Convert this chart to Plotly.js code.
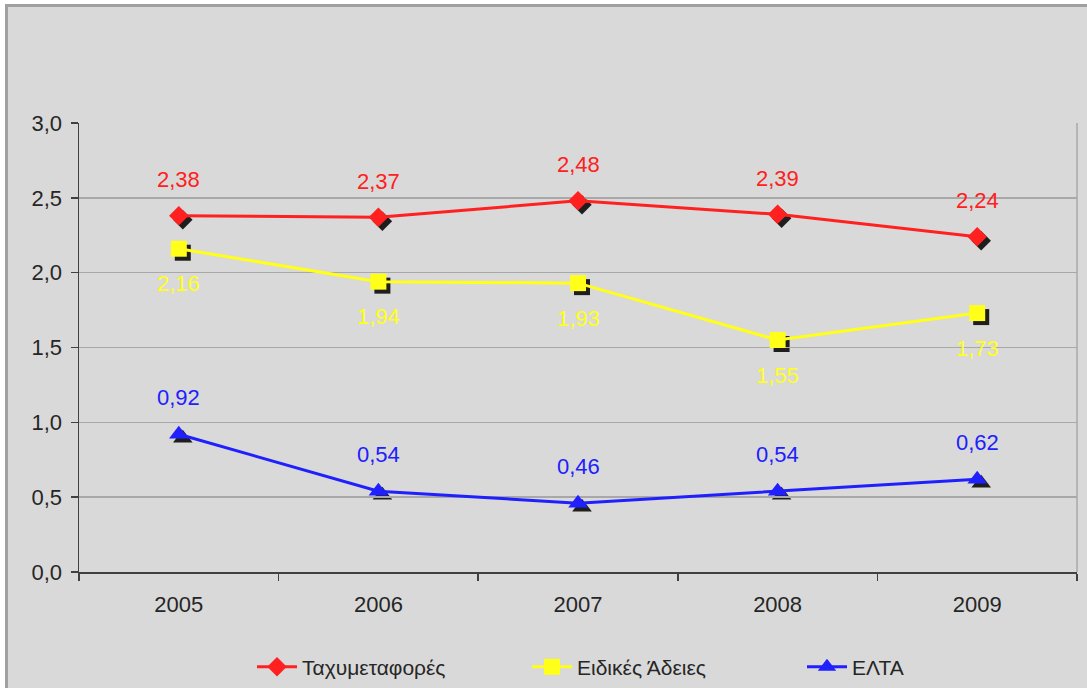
<!DOCTYPE html>
<html>
<head>
<meta charset="utf-8">
<script src="https://cdn.plot.ly/plotly-3.0.1.min.js"></script>
<style>
  html, body { margin: 0; padding: 0; background: #ffffff; }
  #wrap { position: relative; width: 1087px; height: 688px; overflow: hidden; background: #ffffff; }
  #frame { position: absolute; left: 5px; top: 4px; width: 1082px; height: 684px;
           border-left: 3px solid #a0a0a0; border-top: 3px solid #a0a0a0; box-sizing: border-box; background: #d9d9d9; }
  #chart { position: absolute; left: 0; top: 0; width: 1079px; height: 681px; }
</style>
</head>
<body>
<div id="wrap"><div id="frame"><div id="chart"></div></div></div>
<script>
// ---- data ----
const years = ['2005', '2006', '2007', '2008', '2009'];
const taxymetafores = [2.38, 2.37, 2.48, 2.39, 2.24];
const eidikesAdeies = [2.16, 1.94, 1.93, 1.55, 1.73];
const elta = [0.92, 0.54, 0.46, 0.54, 0.62];
const seriesNames = ['Ταχυμεταφορές', 'Ειδικές Άδειες', 'ΕΛΤΑ'];

// ---- style ----
const colors = ['#ff2020', '#ffff1a', '#2020ff'];
const symbols = ['diamond', 'square', 'triangle-up'];
const sizes = [15, 16, 17];
const labelShift = [36, -35, 37];
const FONT = '"Liberation Sans", Arial, sans-serif';

const plotW = 998, plotH = 449, off = 4;
const W = plotW + off, H = plotH + off;

const seriesData = [taxymetafores, eidikesAdeies, elta];
const traces = [];
// shadows (hidden axes x/y, shifted right/down)
seriesData.forEach((vals, i) => {
  traces.push({
    x: years, y: vals, type: 'scatter', mode: 'markers',
    xaxis: 'x', yaxis: 'y', showlegend: false, hoverinfo: 'skip',
    marker: { symbol: symbols[i], size: sizes[i], color: '#1e1e1e' }
  });
});
// main series
seriesData.forEach((vals, i) => {
  traces.push({
    x: years, y: vals, type: 'scatter', mode: 'lines+markers',
    name: seriesNames[i], xaxis: 'x2', yaxis: 'y2',
    line: { color: colors[i], width: 3 },
    marker: { symbol: symbols[i], size: sizes[i], color: colors[i] }
  });
});

const annotations = [];
seriesData.forEach((vals, i) => {
  vals.forEach((v, j) => {
    annotations.push({
      x: j, y: v, xref: 'x2', yref: 'y2',
      text: v.toFixed(2).replace('.', ','),
      showarrow: false, yshift: labelShift[i], xanchor: 'center', yanchor: 'middle',
      font: { family: FONT, size: 22, color: colors[i] }
    });
  });
});

const axisFont = { family: FONT, size: 22, color: '#262626' };

const layout = {
  width: 1079, height: 681,
  margin: { l: 71, r: 6, t: 116, b: 112, pad: 0 },
  paper_bgcolor: '#d9d9d9', plot_bgcolor: 'rgba(0,0,0,0)',
  separators: ',.',
  showlegend: true,
  xaxis: {
    type: 'category', domain: [off / W, 1], anchor: 'y', visible: false,
    range: [-0.5, 4.5], fixedrange: true
  },
  yaxis: {
    domain: [0, plotH / H], anchor: 'x', visible: false,
    range: [0, 3], fixedrange: true
  },
  xaxis2: {
    type: 'category', domain: [0, plotW / W], anchor: 'y2',
    range: [-0.5, 4.5], showgrid: false, zeroline: false,
    showline: true, linecolor: '#404040', linewidth: 1.5,
    ticks: 'outside', tickson: 'boundaries', ticklen: 7, tickcolor: '#404040', tickwidth: 1.5,
    tickfont: axisFont, ticklabelstandoff: 12
  },
  yaxis2: {
    domain: [off / H, 1], anchor: 'x2',
    range: [0, 3], dtick: 0.5, tickformat: '.1f',
    showgrid: true, gridcolor: '#a8a8a8', gridwidth: 1.5, zeroline: false,
    showline: true, linecolor: '#404040', linewidth: 1.5,
    ticks: 'outside', ticklen: 7, tickcolor: '#404040', tickwidth: 1.5,
    tickfont: axisFont, ticklabelstandoff: 4
  },
  shapes: [{
    type: 'line', xref: 'x2 domain', yref: 'y2 domain', x0: 1, x1: 1, y0: 0, y1: 1,
    line: { color: '#a8a8a8', width: 1.5 }
  }],
  annotations: annotations,
  legend: {
    orientation: 'h', xref: 'container', yref: 'container',
    x: 244 / 1079, xanchor: 'left', y: 1 - 660 / 681, yanchor: 'middle',
    bgcolor: 'rgba(0,0,0,0)', font: { family: FONT, size: 21, color: '#262626' },
    entrywidth: 220, itemwidth: 40, traceorder: 'normal'
  }
};

Plotly.newPlot('chart', traces, layout, { displayModeBar: false, staticPlot: true });
</script>
</body>
</html>
